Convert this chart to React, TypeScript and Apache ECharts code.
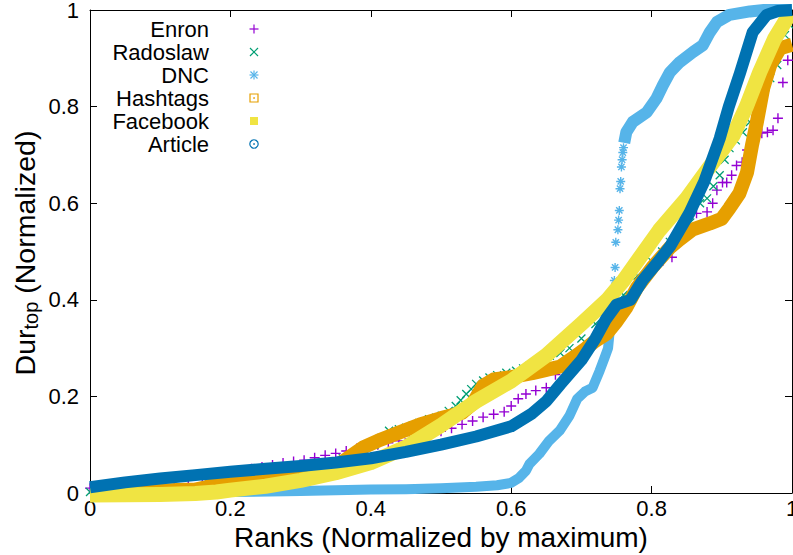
import React, { useEffect, useRef } from "react";
import * as echarts from "echarts";

const FONT = "'Liberation Sans', Arial, Helvetica, sans-serif";

const seriesNames = ["Enron", "Radoslaw", "DNC", "Hashtags", "Facebook", "Article"];
const seriesColors = ["#9400d3", "#009e73", "#56b4e9", "#e69f00", "#f0e442", "#0072b2"];

const xTitle = "Ranks (Normalized by maximum)";
const axisMin = 0;
const axisMax = 1;
const tickStep = 0.2;

const enron: number[][] = [
  [0.0, 0.01], [0.02, 0.011], [0.04, 0.012], [0.06, 0.012], [0.08, 0.013], [0.1, 0.014],
  [0.12, 0.015], [0.14, 0.016], [0.16, 0.018], [0.175, 0.03], [0.185, 0.042], [0.2, 0.045],
  [0.215, 0.047], [0.23, 0.05], [0.245, 0.054], [0.26, 0.058], [0.275, 0.062], [0.29, 0.065],
  [0.305, 0.068], [0.32, 0.073], [0.335, 0.078], [0.35, 0.082], [0.365, 0.087], [0.38, 0.092],
  [0.395, 0.097], [0.41, 0.1], [0.425, 0.104], [0.44, 0.108], [0.455, 0.112], [0.47, 0.118],
  [0.485, 0.122], [0.5, 0.128], [0.515, 0.134], [0.53, 0.142], [0.545, 0.149], [0.56, 0.157],
  [0.575, 0.163], [0.59, 0.168], [0.6, 0.18], [0.61, 0.195], [0.621, 0.205], [0.635, 0.212],
  [0.65, 0.218], [0.663, 0.245], [0.673, 0.268], [0.685, 0.282], [0.7, 0.295], [0.715, 0.312],
  [0.73, 0.33], [0.745, 0.358], [0.76, 0.39], [0.775, 0.42], [0.79, 0.448], [0.81, 0.472],
  [0.829, 0.488], [0.864, 0.579], [0.879, 0.582], [0.887, 0.6], [0.893, 0.627], [0.901, 0.643],
  [0.907, 0.643], [0.914, 0.658], [0.921, 0.678], [0.929, 0.685], [0.936, 0.71], [0.944, 0.72],
  [0.957, 0.745], [0.965, 0.747], [0.973, 0.751], [0.98, 0.776], [0.987, 0.85], [0.994, 0.896],
];

const radoslaw: number[][] = [
  [0.0, 0.002], [0.03, 0.002], [0.06, 0.003], [0.09, 0.003], [0.12, 0.004], [0.15, 0.005],
  [0.18, 0.008], [0.2, 0.012], [0.22, 0.015], [0.24, 0.018], [0.26, 0.021], [0.28, 0.025],
  [0.3, 0.029], [0.315, 0.035], [0.33, 0.045], [0.345, 0.06], [0.36, 0.072], [0.375, 0.078],
  [0.39, 0.085], [0.405, 0.1], [0.415, 0.114], [0.426, 0.129], [0.44, 0.132], [0.45, 0.135],
  [0.46, 0.14], [0.469, 0.145], [0.483, 0.153], [0.493, 0.156], [0.501, 0.16], [0.511, 0.17],
  [0.521, 0.18], [0.528, 0.192], [0.536, 0.205], [0.543, 0.215], [0.55, 0.226], [0.56, 0.233],
  [0.569, 0.239], [0.58, 0.244], [0.593, 0.249], [0.607, 0.253], [0.617, 0.258], [0.626, 0.263],
  [0.64, 0.275], [0.655, 0.284], [0.67, 0.29], [0.683, 0.3], [0.7, 0.32], [0.72, 0.35],
  [0.74, 0.38], [0.76, 0.41], [0.78, 0.45], [0.8, 0.48], [0.815, 0.5], [0.826, 0.52],
  [0.84, 0.54], [0.855, 0.56], [0.869, 0.6], [0.879, 0.61], [0.888, 0.635], [0.897, 0.658],
  [0.904, 0.69], [0.911, 0.714], [0.92, 0.73], [0.93, 0.747], [0.94, 0.768], [0.947, 0.8],
  [0.954, 0.824], [0.962, 0.84], [0.969, 0.859], [0.979, 0.886], [0.985, 0.92], [0.99, 0.948],
  [0.997, 0.969],
];

const dncLower: number[][] = [
  [0.0, 0.0], [0.1, 0.0], [0.2, 0.002], [0.3, 0.004], [0.4, 0.007], [0.45, 0.008], [0.5, 0.01],
  [0.55, 0.013], [0.58, 0.016], [0.6, 0.021], [0.611, 0.031], [0.621, 0.046], [0.626, 0.06],
  [0.64, 0.081], [0.654, 0.108], [0.669, 0.129], [0.683, 0.16], [0.694, 0.195], [0.705, 0.21],
  [0.716, 0.218], [0.726, 0.253], [0.733, 0.28], [0.738, 0.3], [0.74, 0.33], [0.742, 0.36],
];
const dncSparse: number[][] = [
  [0.744, 0.38], [0.745, 0.4], [0.746, 0.42], [0.747, 0.44], [0.748, 0.467], [0.749, 0.519],
  [0.752, 0.545], [0.753, 0.565], [0.754, 0.585], [0.755, 0.63], [0.756, 0.645], [0.757, 0.675],
  [0.758, 0.69], [0.759, 0.705], [0.76, 0.715],
];
const dncUpper: number[][] = [
  [0.761, 0.725], [0.764, 0.747], [0.773, 0.768], [0.793, 0.788], [0.807, 0.817], [0.816, 0.844],
  [0.826, 0.871], [0.84, 0.892], [0.859, 0.913], [0.873, 0.927], [0.883, 0.954], [0.893, 0.975],
  [0.911, 0.99], [0.94, 0.997], [0.96, 1.0], [1.0, 1.0],
];

const hashtags: number[][] = [
  [0.0, 0.004], [0.05, 0.004], [0.1, 0.005], [0.15, 0.007], [0.165, 0.012], [0.18, 0.02],
  [0.2, 0.026], [0.22, 0.032], [0.26, 0.035], [0.3, 0.037], [0.33, 0.043], [0.35, 0.055],
  [0.37, 0.075], [0.39, 0.095], [0.41, 0.108], [0.44, 0.125], [0.47, 0.142], [0.5, 0.155],
  [0.53, 0.166], [0.545, 0.185], [0.56, 0.222], [0.575, 0.235], [0.6, 0.24], [0.63, 0.248],
  [0.65, 0.255], [0.67, 0.262], [0.69, 0.282], [0.707, 0.3], [0.72, 0.315], [0.736, 0.33],
  [0.75, 0.355], [0.764, 0.384], [0.779, 0.425], [0.801, 0.467], [0.826, 0.508], [0.84, 0.525],
  [0.859, 0.546], [0.883, 0.558], [0.9, 0.568], [0.911, 0.59], [0.925, 0.62], [0.936, 0.664],
  [0.943, 0.72], [0.95, 0.768], [0.959, 0.838], [0.969, 0.886], [0.983, 0.921], [1.0, 0.928],
];

const facebook: number[][] = [
  [0.0, -0.004], [0.1, -0.003], [0.15, -0.001], [0.18, 0.002], [0.2, 0.006], [0.25, 0.014],
  [0.3, 0.026], [0.35, 0.042], [0.4, 0.063], [0.45, 0.095], [0.5, 0.14], [0.55, 0.19],
  [0.6, 0.232], [0.65, 0.285], [0.7, 0.35], [0.737, 0.4], [0.76, 0.44], [0.811, 0.544],
  [0.85, 0.61], [0.88, 0.67], [0.916, 0.74], [0.935, 0.8], [0.954, 0.871], [0.975, 0.94],
  [0.993, 0.983], [1.0, 0.99],
];

const article: number[][] = [
  [0.0, 0.012], [0.05, 0.022], [0.1, 0.03], [0.15, 0.037], [0.2, 0.044], [0.25, 0.05],
  [0.3, 0.056], [0.35, 0.063], [0.4, 0.072], [0.45, 0.085], [0.5, 0.1], [0.55, 0.117],
  [0.6, 0.138], [0.63, 0.165], [0.65, 0.19], [0.67, 0.225], [0.7, 0.275], [0.72, 0.32],
  [0.735, 0.36], [0.75, 0.39], [0.77, 0.4], [0.787, 0.44], [0.81, 0.48], [0.826, 0.51],
  [0.854, 0.58], [0.875, 0.645], [0.897, 0.734], [0.91, 0.8], [0.926, 0.87], [0.944, 0.954],
  [0.964, 0.99], [0.98, 0.998], [1.0, 1.0],
];

const PLUS = "path://M0,5L10,5M5,0L5,10";
const CROSS = "path://M0,0L10,10M0,10L10,0";
const STAR = "path://M5,0L5,10M0,5L10,5M1.5,1.5L8.5,8.5M1.5,8.5L8.5,1.5";

function scatter(name: string, data: number[][], symbol: string, color: string, size: number, bw: number) {
  return {
    name,
    type: "scatter",
    data,
    symbol,
    symbolSize: size,
    clip: false,
    itemStyle: { color: "none", borderColor: color, borderWidth: bw, opacity: 1 },
    emphasis: { disabled: true },
  };
}

function band(name: string, data: number[][], color: string, width: number) {
  return {
    name,
    type: "line",
    data,
    showSymbol: false,
    symbol: "none",
    clip: false,
    smooth: false,
    lineStyle: { color, width, join: "round", cap: "butt" },
    emphasis: { disabled: true },
  };
}

export default function App() {
  const ref = useRef<HTMLDivElement>(null);
  useEffect(() => {
    document.body.style.overflow = "hidden";
    const chart = echarts.init(ref.current!, null, { renderer: "svg", width: 793, height: 555 });

    const axisCommon = {
      type: "value",
      min: axisMin,
      max: axisMax,
      interval: tickStep,
      splitLine: { show: false },
      axisLine: { show: true, onZero: false, lineStyle: { color: "#000", width: 1 } },
      axisTick: { show: true, inside: true, length: 7, lineStyle: { color: "#000", width: 1 } },
    };

    const legendX = 209;
    const symX = 254;
    const legendY = [29, 52, 75, 98, 121, 144];
    const g: any[] = [];
    seriesNames.forEach((n, i) => {
      g.push({
        type: "text",
        x: legendX,
        y: legendY[i],
        style: {
          text: n,
          fill: "#000",
          font: `22px ${FONT}`,
          align: "right",
          verticalAlign: "middle",
          textAlign: "right",
          textVerticalAlign: "middle",
        },
      });
    });
    const ln = (x1: number, y1: number, x2: number, y2: number, c: string) => ({
      type: "line",
      shape: { x1, y1, x2, y2 },
      style: { stroke: c, lineWidth: 1.2 },
    });
    g.push(ln(symX - 4.5, legendY[0], symX + 4.5, legendY[0], seriesColors[0]));
    g.push(ln(symX, legendY[0] - 4.5, symX, legendY[0] + 4.5, seriesColors[0]));
    g.push(ln(symX - 4, legendY[1] - 4, symX + 4, legendY[1] + 4, seriesColors[1]));
    g.push(ln(symX - 4, legendY[1] + 4, symX + 4, legendY[1] - 4, seriesColors[1]));
    g.push(ln(symX - 4.5, legendY[2], symX + 4.5, legendY[2], seriesColors[2]));
    g.push(ln(symX, legendY[2] - 4.5, symX, legendY[2] + 4.5, seriesColors[2]));
    g.push(ln(symX - 3.5, legendY[2] - 3.5, symX + 3.5, legendY[2] + 3.5, seriesColors[2]));
    g.push(ln(symX - 3.5, legendY[2] + 3.5, symX + 3.5, legendY[2] - 3.5, seriesColors[2]));
    g.push({
      type: "rect",
      shape: { x: symX - 4, y: legendY[3] - 4, width: 8, height: 8 },
      style: { fill: "none", stroke: seriesColors[3], lineWidth: 1.2 },
    });
    g.push({ type: "circle", shape: { cx: symX, cy: legendY[3], r: 0.8 }, style: { fill: seriesColors[3] } });
    g.push({
      type: "rect",
      shape: { x: symX - 4, y: legendY[4] - 4, width: 8, height: 8 },
      style: { fill: seriesColors[4] },
    });
    g.push({
      type: "circle",
      shape: { cx: symX, cy: legendY[5], r: 4.2 },
      style: { fill: "none", stroke: seriesColors[5], lineWidth: 1.2 },
    });
    g.push({ type: "circle", shape: { cx: symX, cy: legendY[5], r: 0.8 }, style: { fill: seriesColors[5] } });

    g.push({
      type: "text",
      x: 25,
      y: 253,
      rotation: Math.PI / 2,
      style: {
        text: "{a|Dur}{b|top}{a| (Normalized)}",
        align: "center",
        verticalAlign: "middle",
        textAlign: "center",
        textVerticalAlign: "middle",
        fill: "#000",
        rich: {
          a: { fontSize: 28.5, fontFamily: FONT, lineHeight: 32, fill: "#000", color: "#000" },
          b: {
            fontSize: 20,
            fontFamily: FONT,
            lineHeight: 14,
            verticalAlign: "bottom",
            fill: "#000",
            color: "#000",
          },
        },
      },
    });

    chart.setOption({
      animation: false,
      backgroundColor: "#fff",
      textStyle: { fontFamily: FONT },
      grid: { left: 90, right: 1, top: 10, bottom: 62, containLabel: false, outerBoundsMode: "none" },
      xAxis: [
        {
          ...axisCommon,
          position: "bottom",
          axisLabel: { show: true, color: "#000", fontSize: 22, fontFamily: FONT, margin: 4 },
          name: xTitle,
          nameLocation: "middle",
          nameGap: 8,
          nameTextStyle: { color: "#000", fontSize: 28, fontFamily: FONT, verticalAlign: "top" },
        },
        { ...axisCommon, position: "top", axisLabel: { show: false } },
      ],
      yAxis: [
        {
          ...axisCommon,
          position: "left",
          axisLabel: { show: true, color: "#000", fontSize: 22, fontFamily: FONT, margin: 11 },
        },
        { ...axisCommon, position: "right", axisLabel: { show: false } },
      ],
      graphic: { elements: g },
      series: [
        scatter(seriesNames[0], enron, PLUS, seriesColors[0], 10, 1.4),
        scatter(seriesNames[1], radoslaw, CROSS, seriesColors[1], 8, 1.3),
        band(seriesNames[2], dncLower, seriesColors[2], 10),
        scatter(seriesNames[2], dncSparse, STAR, seriesColors[2], 9, 1.4),
        band(seriesNames[2], dncUpper, seriesColors[2], 12),
        band(seriesNames[3], hashtags, seriesColors[3], 14),
        band(seriesNames[4], facebook, seriesColors[4], 15),
        band(seriesNames[5], article, seriesColors[5], 12),
      ],
    });
    return () => chart.dispose();
  }, []);
  return (
    <div
      ref={ref}
      style={{ position: "fixed", left: 0, top: 0, width: 793, height: 555, background: "#fff", overflow: "hidden" }}
    />
  );
}
